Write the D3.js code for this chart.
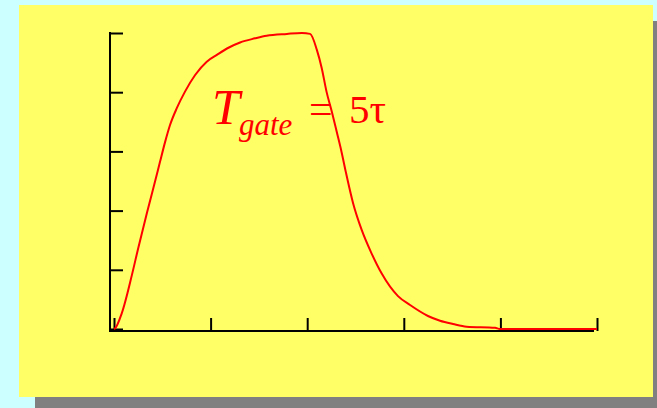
<!DOCTYPE html>
<html>
<head>
<meta charset="utf-8">
<script src="https://cdn.jsdelivr.net/npm/d3@7/dist/d3.min.js"></script>
<style>
  html, body { margin: 0; padding: 0; background: #ccffff; }
  svg { display: block; }
</style>
</head>
<body>
<svg id="chart" width="657" height="408"></svg>
<script>
// Time (arbitrary units, 5 tick intervals) and normalized signal
const timeValues = [0, 0.02, 0.16, 0.37, 0.50, 0.68, 0.86, 0.95, 1.06, 1.16, 1.30, 1.47, 1.68, 1.92, 2.13, 2.38, 2.61, 2.92, 3.16, 3.58, 3.89, 4.06, 4.20, 4.30, 4.40, 4.51, 4.61, 4.71, 4.80, 4.95, 5.13, 5.32, 5.54, 5.88, 6.13, 6.50, 6.75, 7.02, 7.30, 7.89, 7.99, 10];
const signalValues = [0, 0.002, 0.053, 0.182, 0.272, 0.391, 0.505, 0.563, 0.633, 0.689, 0.746, 0.802, 0.858, 0.903, 0.926, 0.951, 0.968, 0.982, 0.991, 0.997, 1.0, 0.997, 0.943, 0.882, 0.802, 0.734, 0.667, 0.599, 0.530, 0.425, 0.334, 0.260, 0.188, 0.111, 0.081, 0.044, 0.028, 0.017, 0.008, 0.004, 0, 0];
const xTickValues = [0, 2, 4, 6, 8, 10];
const yTickValues = [0, 0.2, 0.4, 0.6, 0.8, 1.0];
const labelMain = "T";
const labelSub = "gate";
const labelEq = "=";
const labelValue = "5τ";

const svg = d3.select("#chart");

// background panel with shadow
svg.append("rect").attr("x", 35).attr("y", 21).attr("width", 640).attr("height", 400).attr("fill", "#808080");
svg.append("rect").attr("x", 19).attr("y", 5).attr("width", 634).attr("height", 392).attr("fill", "#ffff66");

const x = d3.scaleLinear().domain([0, 10]).range([114, 597]);
const y = d3.scaleLinear().domain([0, 1]).range([329, 33]);

// y axis
const yAxisG = svg.append("g").attr("transform", "translate(110,0)")
  .call(d3.axisLeft(y).tickValues(yTickValues).tickSizeInner(-13).tickSizeOuter(0).tickFormat(""));
yAxisG.select(".domain").remove();
yAxisG.selectAll(".tick line").attr("stroke", "#000").attr("stroke-width", 2);
svg.append("line").attr("x1", 110).attr("x2", 110).attr("y1", y(1) - 1).attr("y2", 332)
  .attr("stroke", "#000").attr("stroke-width", 2);

// x axis
const xAxisG = svg.append("g").attr("transform", "translate(0,331)")
  .call(d3.axisBottom(x).tickValues(xTickValues).tickSizeInner(-13).tickSizeOuter(0).tickFormat(""));
xAxisG.select(".domain").remove();
xAxisG.selectAll(".tick line").attr("stroke", "#000").attr("stroke-width", 2);
svg.append("line").attr("x1", 109).attr("x2", x(10) - 3).attr("y1", 331).attr("y2", 331)
  .attr("stroke", "#000").attr("stroke-width", 2);

// curve
const data = timeValues.map((t, i) => ({ t, v: signalValues[i] }));
svg.append("path").datum(data)
  .attr("fill", "none").attr("stroke", "#ff0000").attr("stroke-width", 2)
  .attr("stroke-linejoin", "round")
  .attr("d", d3.line().curve(d3.curveMonotoneX).x(d => x(d.t)).y(d => y(d.v)));

// label
const font = "'Liberation Serif', 'Times New Roman', serif";
svg.append("text").attr("x", 212).attr("y", 124)
  .attr("font-family", font).attr("font-style", "italic").attr("font-size", 50)
  .attr("fill", "#ff0000").text(labelMain);
svg.append("text").attr("x", 239).attr("y", 135)
  .attr("font-family", font).attr("font-style", "italic").attr("font-size", 31)
  .attr("fill", "#ff0000").text(labelSub);
svg.append("text").attr("x", 309).attr("y", 123)
  .attr("font-family", font).attr("font-size", 42)
  .attr("fill", "#ff0000").text(labelEq);
svg.append("text").attr("x", 349).attr("y", 123)
  .attr("font-family", font).attr("font-size", 41)
  .attr("fill", "#ff0000").text(labelValue);
</script>
</body>
</html>
